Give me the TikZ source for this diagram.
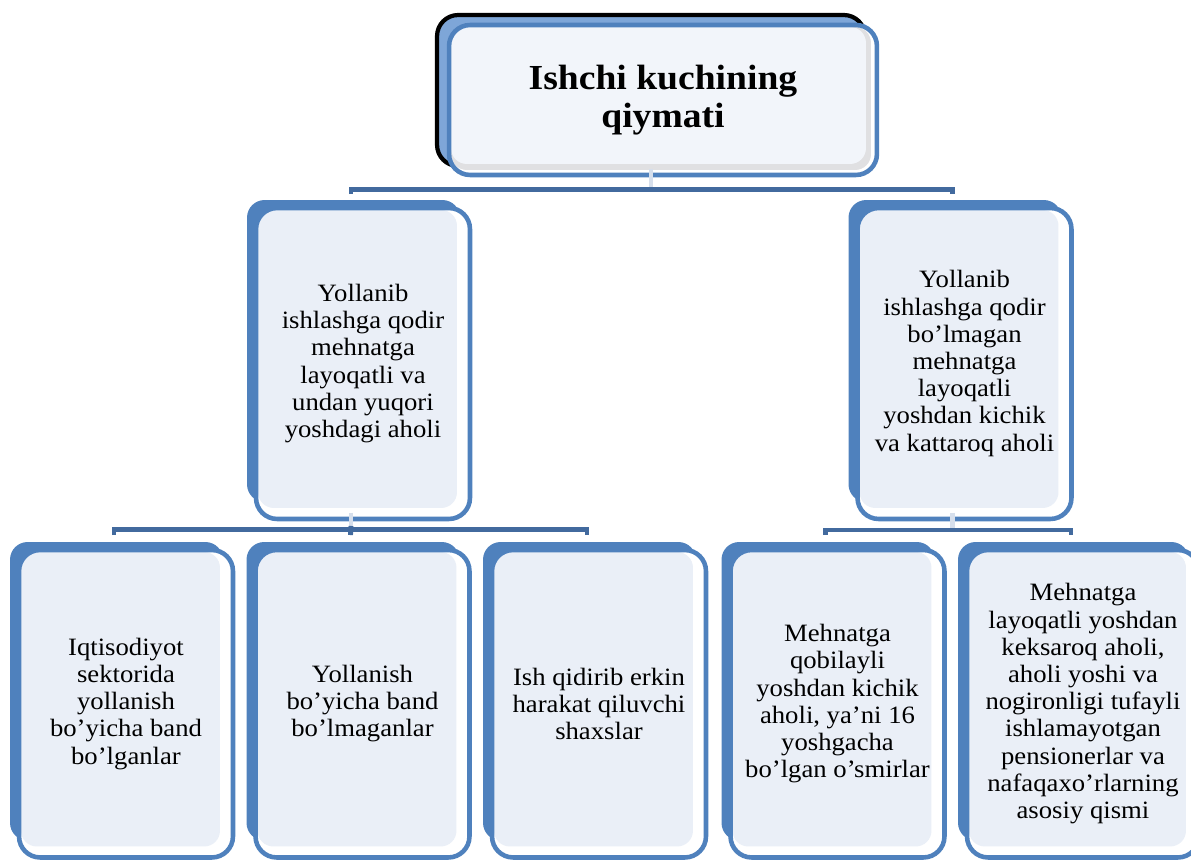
\documentclass[tikz,border=0pt]{standalone}
\usepackage{fontspec}
\setmainfont{Liberation Serif}[FakeStretch=1.07]
\usetikzlibrary{calc}
\pgfdeclarelayer{background}
\pgfsetlayers{background,main}

\definecolor{boxblue}{RGB}{79,129,189}
\definecolor{barblue}{RGB}{66,106,158}
\definecolor{innerfill}{RGB}{234,239,247}
\definecolor{topfill}{RGB}{242,245,250}
\definecolor{topback}{RGB}{126,166,216}
\definecolor{stemgray}{RGB}{214,223,236}
\definecolor{shadegray}{RGB}{224,224,226}

\tikzset{
	card/.style={draw=boxblue, line width=2.6pt, fill=white, rounded corners=12pt, outer sep=0pt, align=center,
		font=\fontsize{14.2}{15.5}\selectfont,
		path picture={\fill[innerfill, rounded corners=9pt] ($(path picture bounding box.north west)+(2,2)$) rectangle ($(path picture bounding box.south east)+(-13,-11)$);}},
	topcard/.style={card, minimum width=8.56cm, minimum height=3cm, font=\bfseries\fontsize{20}{21.7}\selectfont,
		path picture={\fill[shadegray, rounded corners=9pt] ($(path picture bounding box.north west)+(2,2)$) rectangle ($(path picture bounding box.south east)+(-6,-5)$);
			\fill[topfill, rounded corners=9pt] ($(path picture bounding box.north west)+(2,2)$) rectangle ($(path picture bounding box.south east)+(-11,-11)$);}},
	midcard/.style={card, minimum width=4.28cm, minimum height=6.22cm},
	lowcard/.style={card, minimum width=4.28cm, minimum height=6.15cm},
	backcard/.style={fill=boxblue, rounded corners=10pt},
	bar/.style={draw=barblue, line width=2.8pt},
	stem/.style={draw=stemgray, line width=2.4pt}
}

\begin{document}
\begin{tikzpicture}[x=0.02cm, y=-0.02cm]
		%%%%% START %%%%%
		\useasboundingbox (0, 0) rectangle (1191, 861);
		
		\node[topcard] (kuch) at (663, 100) {Ishchi kuchining\\qiymati};
		
		\node[midcard] (qodir) at (363, 363.5) {Yollanib\\ishlashga qodir\\mehnatga\\layoqatli va\\undan yuqori\\yoshdagi aholi};
		\node[midcard] (noqodir) at (964.5, 363.5) {Yollanib\\ishlashga qodir\\bo’lmagan\\mehnatga\\layoqatli\\yoshdan kichik\\va kattaroq aholi};
		
		\node[lowcard] (band) at (126, 703.75) {Iqtisodiyot\\sektorida\\yollanish\\bo’yicha band\\bo’lganlar};
		\node[lowcard] (bandemas) at (362.5, 703.75) {Yollanish\\bo’yicha band\\bo’lmaganlar};
		\node[lowcard] (izlovchi) at (599, 703.75) {Ish qidirib erkin\\harakat qiluvchi\\shaxslar};
		\node[lowcard] (osmir) at (837.5, 703.75) {Mehnatga\\qobilayli\\yoshdan kichik\\aholi, ya’ni 16\\yoshgacha\\bo’lgan o’smirlar};
		\node[lowcard, minimum width=4.64cm] (pensioner) at (1083, 703.75) {Mehnatga\\layoqatli yoshdan\\keksaroq aholi,\\aholi yoshi va\\nogironligi tufayli\\ishlamayotgan\\pensionerlar va\\nafaqaxo’rlarning\\asosiy qismi};
		
		\begin{pgfonlayer}{background}
			\draw[black, line width=2.4pt, fill=topback, rounded corners=12pt] ($(kuch.north west)+(-12,-10)$) rectangle ($(kuch.south east)+(-12,-9)$);
			\fill[backcard] ($(qodir.north west)+(-9,-8)$) rectangle ($(qodir.south east)+(-10,-17)$);
			\fill[backcard] ($(noqodir.north west)+(-9,-8)$) rectangle ($(noqodir.south east)+(-10,-17)$);
			\fill[backcard] ($(band.north west)+(-9,-8)$) rectangle ($(band.south east)+(-10,-17)$);
			\fill[backcard] ($(bandemas.north west)+(-9,-8)$) rectangle ($(bandemas.south east)+(-10,-17)$);
			\fill[backcard] ($(izlovchi.north west)+(-9,-8)$) rectangle ($(izlovchi.south east)+(-10,-17)$);
			\fill[backcard] ($(osmir.north west)+(-9,-8)$) rectangle ($(osmir.south east)+(-10,-17)$);
			\fill[backcard] ($(pensioner.north west)+(-9,-8)$) rectangle ($(pensioner.south east)+(-10,-17)$);
		\end{pgfonlayer}
		
		% top level
		\draw[stem] ($(kuch.south)+(-12,-6)$) -- ($(kuch.south)+(-12,12)$);
		\draw[bar] ($(qodir.north)+(-12,-14)$) |- ($(kuch.south)+(-12,14.5)$) -| ($(noqodir.north)+(-12,-14)$);
		
		% left branch
		\draw[stem] ($(qodir.south)+(-12,-6)$) -- ($(qodir.south)+(-12,8)$);
		\draw[bar] ($(band.north)+(-12,-15)$) |- ($(qodir.south)+(-12,10.5)$) -| ($(izlovchi.north)+(-12,-15)$);
		\draw[bar] ($(qodir.south)+(-12,7)$) -- ($(bandemas.north)+(-12,-15)$);
		
		% right branch
		\draw[stem] ($(noqodir.south)+(-12,-6)$) -- ($(noqodir.south)+(-12,9)$);
		\draw[bar] ($(osmir.north)+(-12,-15)$) |- ($(noqodir.south)+(-12,11)$) -| ($(pensioner.north)+(-12,-15)$);
		
		%%%%% END %%%%%
\end{tikzpicture}
\end{document}
